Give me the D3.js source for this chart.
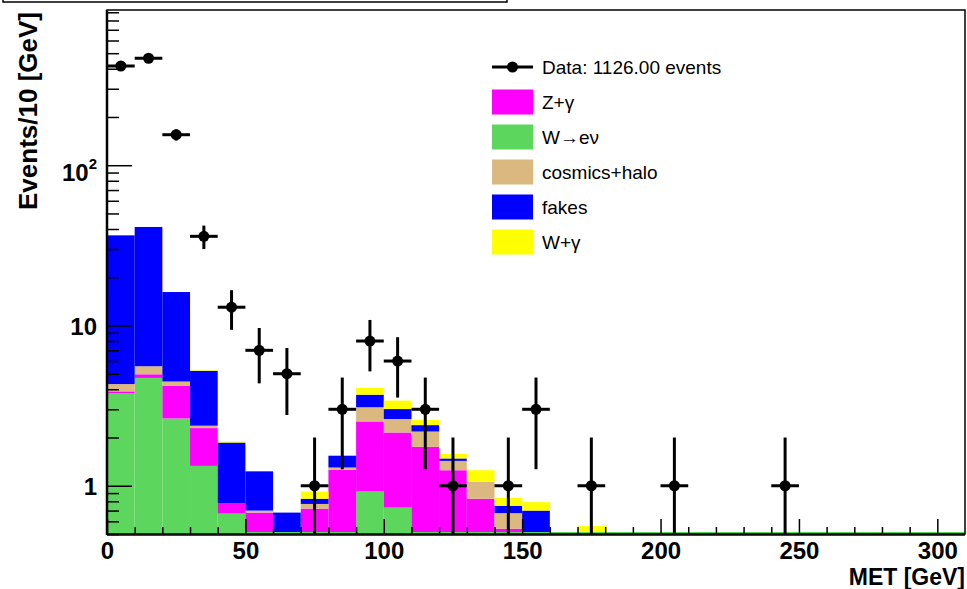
<!DOCTYPE html>
<html>
<head>
<meta charset="utf-8">
<script src="https://cdn.jsdelivr.net/npm/d3@7"></script>
<style>
  html, body { margin: 0; padding: 0; background: #fff; }
  svg { display: block; font-family: "Liberation Sans", Arial, Helvetica, sans-serif; }
</style>
</head>
<body>
<svg id="chart" width="967" height="589"></svg>
<script>
// ---- data ----
const binLow = [0,10,20,30,40,50,60,70,80,90,100,110,120,130,140,150,160,170];
const wenu    = [3.77,4.71,2.63,1.33,0.67,0,0,0,0,0.92,0.73,0,0,0,0,0,0,0];
const zgamma  = [0.11,0.25,1.59,0.96,0.11,0.68,0.30,0.72,1.26,1.60,1.42,1.75,1.25,0.83,0.54,0,0,0];
const cosmics = [0.43,0.61,0.25,0.08,0,0.02,0,0.05,0.04,0.57,0.46,0.43,0.18,0.23,0.135,0,0,0];
const fakes   = [32.2,35.6,11.7,2.84,1.08,0.53,0.38,0.06,0.24,0.61,0.40,0.21,0.05,0,0.075,0.70,0,0];
const wgamma  = [0,0,0,0.04,0.03,0,0,0.09,0,0.38,0.39,0.18,0.10,0.19,0.09,0.09,0,0.56];

const dataX      = [5,15,25,35,45,55,65,75,85,95,105,115,125,145,155,175,205,245];
const dataCounts = [416,465,155,36,13,7,5,1,3,8,6,3,1,1,3,1,1,1];

const binWidth = 10;
const xDomain = [0, 310];
const yDomain = [0.5, 930];
const xMajor = [0,50,100,150,200,250,300];
const yMajor = [1,10,100];
const yMajorLabels = [["1",""],["10",""],["10","2"]];

const seriesNames = ["W\u2192e\u03bd","Z+\u03b3","cosmics+halo","fakes","W+\u03b3"];
const seriesKeys  = ["wenu","zgamma","cosmics","fakes","wgamma"];
const seriesColors = ["#5cd65c","#ff00ff","#dab87f","#0000ff","#ffff00"];
const legendOrder = ["zgamma","wenu","cosmics","fakes","wgamma"];
const dataLabel = "Data: 1126.00 events";

(function draw() {
// ---- layout ----
const pL = 107, pR = 965, pT = 10, pB = 534;
const svg = d3.select("#chart");

const x = d3.scaleLinear().domain(xDomain).range([pL, pR]);
const y = d3.scaleLog().domain(yDomain).range([pB, pT]);
const yc = v => y(Math.max(v, yDomain[0]));

// top box fragment (cut-off title box)
svg.append("path").attr("d", "M3,-2V2H507V-2").attr("fill","none").attr("stroke","#000").attr("stroke-width",1.5);

// ---- stacked histogram ----
const table = binLow.map((b,i) => ({bin:b, wenu:wenu[i], zgamma:zgamma[i], cosmics:cosmics[i], fakes:fakes[i], wgamma:wgamma[i]}));
const stack = d3.stack().keys(seriesKeys)(table);
const gBars = svg.append("g");
stack.forEach((layer, li) => {
  gBars.selectAll(null).data(layer.filter(d => d[1] > d[0] && d[1] > yDomain[0]))
    .enter().append("rect")
    .attr("x", d => x(d.data.bin))
    .attr("width", d => x(d.data.bin + binWidth) - x(d.data.bin))
    .attr("y", d => yc(d[1]))
    .attr("height", d => yc(d[0]) - yc(d[1]))
    .attr("fill", seriesColors[li]);
});
// W->e nu line at the floor
svg.append("line").attr("x1", x(xDomain[0])).attr("x2", x(xDomain[1]))
  .attr("y1", yc(0)-1).attr("y2", yc(0)-1).attr("stroke", seriesColors[0]).attr("stroke-width", 2);

// ---- axes ----
const xMinor = d3.range(0, 301, 10).filter(v => !xMajor.includes(v));
const gx = svg.append("g").attr("transform", `translate(0,${pB})`);
gx.call(d3.axisBottom(x).tickValues(xMinor).tickSize(-7).tickFormat("").tickSizeOuter(0));
gx.select(".domain").remove();
const gx2 = svg.append("g").attr("transform", `translate(0,${pB})`);
gx2.call(d3.axisBottom(x).tickValues(xMajor).tickSize(-15).tickPadding(8).tickFormat(d3.format("d")).tickSizeOuter(0));
gx2.select(".domain").remove();
gx2.selectAll("text").attr("font-size", 24).attr("font-weight", "bold").attr("fill","#000")
  .attr("font-family", '"Liberation Sans", Arial, sans-serif');
[gx, gx2].forEach(g => g.selectAll("line").attr("stroke", "#000").attr("stroke-width", 1.5));

const yMinor = [];
[0.1,1,10,100].forEach(dec => { for (let k=2;k<=9;k++){ const v=k*dec; if (v>=yDomain[0] && v<=yDomain[1]) yMinor.push(v);} });
const gy = svg.append("g").attr("transform", `translate(${pL},0)`);
gy.call(d3.axisLeft(y).tickValues(yMinor).tickSize(-12).tickFormat("").tickSizeOuter(0));
gy.select(".domain").remove();
const gy2 = svg.append("g").attr("transform", `translate(${pL},0)`);
gy2.call(d3.axisLeft(y).tickValues(yMajor).tickSize(-25).tickPadding(10).tickFormat("").tickSizeOuter(0));
gy2.select(".domain").remove();
[gy, gy2].forEach(g => g.selectAll("line").attr("stroke", "#000").attr("stroke-width", 1.5));
gy2.selectAll(".tick text").each(function(d, i) {
  const t = d3.select(this);
  const lab = yMajorLabels[i];
  t.text(null).attr("font-size", 24).attr("font-weight","bold").attr("fill","#000")
   .attr("font-family", '"Liberation Sans", Arial, sans-serif');
  t.append("tspan").text(lab[0]);
  if (lab[1]) { t.append("tspan").attr("font-size", 15).attr("dy", "-0.75em").text(lab[1]); t.attr("dy","0.62em"); }
  else t.attr("dy","0.36em");
});

// frame
svg.append("rect").attr("x", pL).attr("y", pT).attr("width", pR-pL).attr("height", pB-pT)
  .attr("fill","none").attr("stroke","#000").attr("stroke-width",1.5);
svg.append("line").attr("x1",pL).attr("x2",pL).attr("y1",pT).attr("y2",pB+1).attr("stroke","#000").attr("stroke-width",2.5);
svg.append("line").attr("x1",pL).attr("x2",pR).attr("y1",pB+1).attr("y2",pB+1).attr("stroke","#000").attr("stroke-width",1.5);

// ---- data points ----
const gData = svg.append("g");
dataX.forEach((cx, i) => {
  const n = dataCounts[i], e = Math.sqrt(n);
  const px = x(cx), py = yc(n);
  gData.append("line").attr("x1", x(cx - binWidth/2)).attr("x2", x(cx + binWidth/2))
    .attr("y1", py).attr("y2", py).attr("stroke","#000").attr("stroke-width",3);
  gData.append("line").attr("x1", px).attr("x2", px)
    .attr("y1", yc(n + e)).attr("y2", yc(n - e)).attr("stroke","#000").attr("stroke-width",3);
  gData.append("circle").attr("cx", px).attr("cy", py).attr("r", 5.5).attr("fill","#000");
});

// ---- axis titles ----
svg.append("text").attr("x", pR).attr("y", 585).attr("text-anchor","end")
  .attr("font-size", 23).attr("font-weight","bold").text("MET [GeV]");
svg.append("text").attr("transform", `translate(37,${pT+2}) rotate(-90)`).attr("text-anchor","end")
  .attr("font-size", 26).attr("font-weight","bold").text("Events/10 [GeV]");

// ---- legend ----
const lg = svg.append("g");
const lx = 492, lw = 41, ly0 = 67, dy = 35, lfs = 19;
lg.append("line").attr("x1", lx).attr("x2", lx+lw).attr("y1", ly0).attr("y2", ly0).attr("stroke","#000").attr("stroke-width",3);
lg.append("circle").attr("cx", lx+lw/2).attr("cy", ly0).attr("r", 5.5).attr("fill","#000");
lg.append("text").attr("x", 542).attr("y", ly0).attr("dy","0.36em").attr("font-size", lfs).text(dataLabel);
legendOrder.forEach((k, i) => {
  const si = seriesKeys.indexOf(k);
  const cy = ly0 + dy*(i+1);
  lg.append("rect").attr("x", lx).attr("y", cy-12.5).attr("width", lw).attr("height", 25).attr("fill", seriesColors[si]);
  lg.append("text").attr("x", 542).attr("y", cy).attr("dy","0.36em").attr("font-size", lfs).text(seriesNames[si]);
});
})();
</script>
</body>
</html>
